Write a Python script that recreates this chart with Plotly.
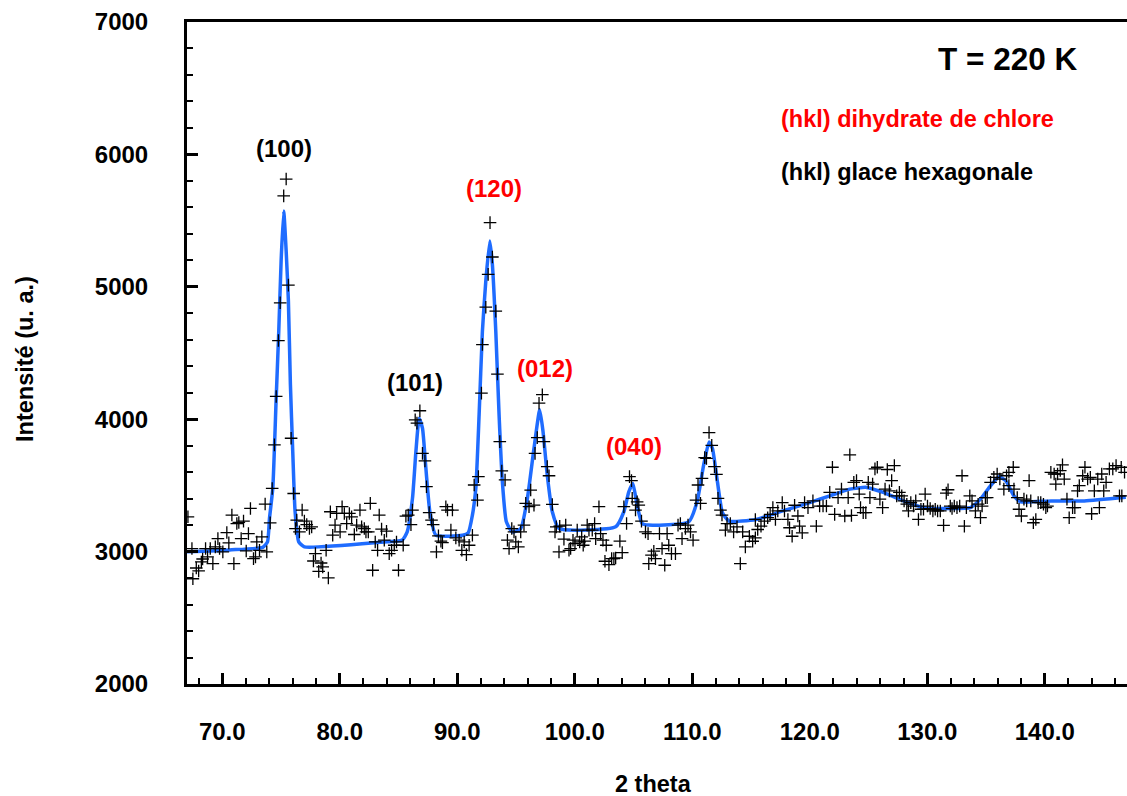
import plotly.graph_objects as go

# Observed data (2 theta, intensity)
theta_obs = [
    67.08, 67.42, 67.50, 67.79, 67.99, 68.22, 68.33, 68.58, 68.75, 68.98, 69.20, 69.41, 69.63, 69.77, 70.05,
    70.39, 70.56, 70.82, 70.99, 71.24, 71.41, 71.61, 71.81, 72.04, 72.23, 72.40, 72.66, 72.83, 72.94, 73.17,
    73.37, 73.65, 73.79, 74.08, 74.25, 74.44, 74.59, 74.78, 74.93, 75.23, 75.44, 75.63, 75.86, 76.08, 76.23,
    76.34, 76.57, 76.80, 76.99, 77.19, 77.42, 77.61, 77.76, 77.93, 78.21, 78.41, 78.55, 78.84, 79.03, 79.20,
    79.40, 79.60, 79.74, 80.03, 80.20, 80.39, 80.59, 80.82, 81.01, 81.24, 81.44, 81.72, 81.86, 82.09, 82.23,
    82.43, 82.60, 82.80, 83.02, 83.22, 83.36, 83.56, 83.79, 83.98, 84.21, 84.41, 84.64, 84.83, 85.00, 85.40,
    85.63, 85.83, 86.06, 86.19, 86.42, 86.57, 86.82, 87.04, 87.25, 87.38, 87.61, 87.81, 87.95, 88.23, 88.40,
    88.61, 88.74, 89.03, 89.17, 89.46, 89.59, 89.88, 90.16, 90.39, 90.59, 90.78, 91.01, 91.29, 91.44, 91.72,
    91.80, 92.06, 92.14, 92.43, 92.63, 92.79, 92.99, 93.28, 93.42, 93.62, 93.79, 94.07, 94.27, 94.41, 94.64,
    94.83, 94.98, 95.20, 95.40, 95.68, 95.83, 96.11, 96.25, 96.53, 96.62, 96.81, 96.96, 97.24, 97.38, 97.66,
    97.81, 98.09, 98.32, 98.43, 98.66, 98.72, 99.08, 99.23, 99.51, 99.65, 99.85, 100.02, 100.21, 100.42, 100.59,
    100.72, 100.84, 101.06, 101.21, 101.49, 101.69, 101.78, 102.06, 102.20, 102.40, 102.57, 102.68, 102.91, 103.14, 103.33,
    103.48, 103.84, 104.04, 104.18, 104.41, 104.66, 104.83, 104.89, 105.17, 105.31, 105.45, 105.68, 106.02, 106.24, 106.30,
    106.53, 106.73, 106.87, 107.21, 107.43, 107.66, 107.86, 108.00, 108.23, 108.57, 108.79, 108.99, 109.13, 109.42, 109.64,
    109.85, 110.07, 110.32, 110.49, 110.70, 110.83, 111.06, 111.21, 111.43, 111.66, 111.89, 112.06, 112.19, 112.40, 112.53,
    112.82, 112.96, 113.24, 113.52, 113.81, 114.09, 114.29, 114.52, 114.86, 115.14, 115.37, 115.37, 115.57, 115.85, 116.14,
    116.42, 116.63, 116.86, 117.08, 117.28, 117.66, 117.85, 118.14, 118.28, 118.50, 118.71, 118.99, 119.13, 119.36, 119.56,
    119.85, 120.27, 120.56, 120.84, 121.13, 121.42, 121.70, 121.93, 122.12, 122.41, 122.70, 122.98, 123.27, 123.41, 123.55,
    123.75, 123.98, 124.21, 124.32, 124.55, 124.77, 124.98, 125.12, 125.35, 125.55, 125.75, 125.97, 126.20, 126.41, 126.60,
    126.78, 126.97, 127.20, 127.40, 127.63, 127.83, 128.03, 128.26, 128.40, 128.60, 128.83, 129.02, 129.25, 129.46, 129.68,
    129.82, 130.02, 130.25, 130.48, 130.68, 130.88, 131.11, 131.39, 131.62, 131.77, 131.96, 132.11, 132.30, 132.53, 132.76,
    132.96, 133.16, 133.33, 133.62, 133.81, 134.10, 134.33, 134.53, 134.67, 134.95, 135.10, 135.39, 135.67, 135.95, 136.18,
    136.52, 136.75, 136.95, 136.95, 137.32, 137.38, 137.66, 137.81, 138.01, 138.23, 138.46, 138.67, 138.81, 139.03, 139.24,
    139.44, 139.66, 139.89, 140.09, 140.23, 140.52, 140.80, 140.94, 141.09, 141.32, 141.51, 141.66, 141.89, 142.08, 142.37,
    142.56, 142.79, 142.94, 143.23, 143.42, 143.65, 143.88, 143.99, 144.22, 144.51, 144.65, 144.85, 145.02, 145.22, 145.50,
    145.79, 146.07, 146.36, 146.56, 146.51, 146.79,
]
intensity_obs = [
    3263, 3023, 2795, 2876, 2854, 2922, 2944, 3023, 2960, 3023, 2909, 3036, 3098, 3023, 2998,
    3144, 3066, 3276, 2909, 3212, 3220, 3098, 3230, 3005, 3136, 3326, 2947, 2960, 3073, 3010,
    3111, 3359, 2998, 3217, 3477, 3806, 4172, 4594, 4879, 5687, 5814, 5013, 3856, 3439, 3174,
    3238, 3149, 3314, 3230, 3204, 3174, 3187, 2929, 2985, 2851, 2914, 2884, 3010, 2801, 3301,
    3124, 3200, 3288, 3149, 3339, 3288, 3212, 3288, 3263, 3129, 3200, 3314, 3187, 3174, 3149,
    3149, 3364, 2859, 3073, 3010, 3276, 3170, 3086, 3154, 2985, 3010, 3048, 3073, 2859, 3048,
    3268, 3276, 3204, 3314, 3995, 3970, 4064, 3742, 3685, 3490, 3295, 3238, 3204, 2998, 3119,
    3079, 3068, 3339, 3314, 3162, 3314, 3104, 3086, 3010, 3073, 2977, 3048, 3124, 3503, 3389,
    3566, 4197, 4564, 4846, 5094, 5485, 5225, 4816, 4341, 3831, 3609, 3541, 3086, 3023, 3174,
    3149, 3073, 3036, 3149, 3200, 3364, 3339, 3465, 3351, 3742, 3861, 4121, 4185, 3831, 3642,
    3573, 3356, 3149, 3187, 2998, 3192, 3094, 3200, 3010, 3023, 3086, 3061, 3162, 3073, 3111,
    3048, 3079, 3200, 3162, 3162, 3212, 3098, 3339, 3136, 3086, 2927, 3048, 2901, 2947, 2947,
    2952, 3079, 2992, 3339, 3212, 3566, 3536, 3402, 3314, 3376, 3351, 3230, 3149, 3136, 2909,
    2973, 3003, 2947, 3136, 3023, 2897, 3136, 3048, 2985, 2985, 3200, 3212, 3098, 3174, 3200,
    3149, 3086, 3389, 3503, 3364, 3553, 3710, 3704, 3899, 3802, 3642, 3583, 3402, 3314, 3276,
    3162, 3212, 3212, 3149, 3187, 2909, 3149, 3036, 3116, 3078, 3104, 3243, 3167, 3192, 3230,
    3256, 3281, 3332, 3243, 3307, 3370, 3307, 3243, 3180, 3116, 3350, 3269, 3192, 3142, 3370,
    3332, 3383, 3192, 3344, 3344, 3344, 3447, 3637, 3281, 3408, 3472, 3269, 3408, 3731, 3273,
    3523, 3536, 3434, 3332, 3294, 3294, 3523, 3408, 3510, 3625, 3637, 3396, 3332, 3472, 3620,
    3459, 3536, 3650, 3421, 3447, 3421, 3383, 3358, 3307, 3370, 3344, 3383, 3243, 3320, 3320,
    3434, 3344, 3325, 3307, 3320, 3307, 3307, 3198, 3442, 3467, 3344, 3325, 3344, 3332, 3344,
    3573, 3192, 3332, 3421, 3383, 3307, 3358, 3256, 3344, 3408, 3408, 3523, 3561, 3586, 3548,
    3472, 3573, 3599, 3498, 3637, 3472, 3408, 3320, 3269, 3396, 3383, 3536, 3383, 3218, 3243,
    3370, 3370, 3358, 3332, 3344, 3599, 3586, 3510, 3586, 3612, 3655, 3548, 3396, 3256, 3332,
    3332, 3459, 3498, 3573, 3637, 3548, 3561, 3286, 3459, 3548, 3332, 3586, 3459, 3523, 3625,
    3625, 3650, 3421, 3421, 3637, 3599,
]

# Fitted profile
theta_fit = [
    67.0, 70.62, 73.45, 73.85, 74.02, 74.30, 74.59, 74.81, 75.01, 75.23, 75.44, 75.63, 75.80, 76.00, 76.20,
    76.51, 76.99, 83.37, 85.32, 85.74, 86.19, 86.48, 86.76, 87.04, 87.33, 87.67, 88.18, 90.44, 90.93, 91.29,
    91.58, 91.86, 92.14, 92.43, 92.77, 92.99, 93.28, 93.56, 93.84, 94.18, 94.69, 95.40, 95.97, 96.53, 97.02,
    97.30, 97.66, 98.09, 98.66, 103.48, 104.18, 104.60, 104.94, 105.31, 105.73, 106.30, 109.70, 110.41, 110.97, 111.43,
    111.72, 112.15, 112.57, 113.14, 115.43, 117.70, 119.99, 121.70, 123.41, 124.83, 126.26, 127.97, 129.69, 131.96, 133.67,
    134.53, 135.39, 136.10, 136.67, 137.38, 137.95, 140.52, 143.37, 146.9,
]
intensity_fit = [
    2998, 3013, 3032, 3073, 3250, 3477, 4159, 4664, 5195, 5573, 5270, 4892, 4263, 3755, 3301,
    3073, 3036, 3070, 3088, 3149, 3402, 3755, 4007, 3932, 3629, 3301, 3124, 3124, 3142, 3276,
    3477, 4033, 4664, 5043, 5346, 5170, 4664, 4033, 3528, 3225, 3149, 3174, 3402, 3780, 4071,
    3907, 3579, 3301, 3174, 3187, 3301, 3452, 3515, 3351, 3212, 3200, 3225, 3376, 3654, 3828,
    3778, 3523, 3294, 3230, 3243, 3307, 3370, 3421, 3472, 3485, 3447, 3383, 3332, 3325, 3332,
    3396, 3498, 3566, 3536, 3421, 3376, 3383, 3383, 3410,
]

# Peak labels
peak_labels = ["(100)", "(101)", "(120)", "(012)", "(040)"]
peak_theta = [75.27, 86.40, 93.14, 97.44, 105.03]
peak_int = [6043, 4280, 5740, 4386, 3793]
peak_colors = ["black", "black", "red", "red", "red"]

FONT = "Liberation Sans, Arial, sans-serif"

fig = go.Figure()
fig.add_trace(go.Scatter(
    x=theta_fit, y=intensity_fit, mode="lines",
    line=dict(color="#1f6cff", width=3.5, shape="spline", smoothing=0.5),
    hoverinfo="skip", showlegend=False,
))
fig.add_trace(go.Scatter(
    x=theta_obs, y=intensity_obs, mode="markers",
    marker=dict(symbol="cross-thin", size=9, line=dict(color="black", width=1.3)),
    showlegend=False,
))

for lab, tx, ty, col in zip(peak_labels, peak_theta, peak_int, peak_colors):
    fig.add_annotation(x=tx, y=ty, text=lab, showarrow=False,
                       font=dict(family=FONT, size=24, color=col, weight="bold"),
                       xanchor="center", yanchor="middle")

fig.add_annotation(x=136.8, y=6717, text="T = 220 K", showarrow=False,
                   font=dict(family=FONT, size=31.5, color="black", weight="bold"),
                   xanchor="center", yanchor="middle")
fig.add_annotation(x=117.41, y=6270, text="(hkl) dihydrate de chlore", showarrow=False,
                   font=dict(family=FONT, size=23.5, color="red", weight="bold"),
                   xanchor="left", yanchor="middle")
fig.add_annotation(x=117.41, y=5864, text="(hkl) glace hexagonale", showarrow=False,
                   font=dict(family=FONT, size=23.5, color="black", weight="bold"),
                   xanchor="left", yanchor="middle")

# axis titles
fig.add_annotation(xref="paper", yref="paper", x=(653 - 187) / 940, y=-(784 - 684) / 662,
                   text="2 theta", showarrow=False,
                   font=dict(family=FONT, size=23.5, color="black", weight="bold"),
                   xanchor="center", yanchor="middle")
fig.add_annotation(xref="paper", yref="paper", x=-(187 - 25) / 940, y=(684 - 359) / 662,
                   text="Intensité (u. a.)", showarrow=False, textangle=-90,
                   font=dict(family=FONT, size=23.5, color="black", weight="bold"),
                   xanchor="center", yanchor="middle")

fig.update_layout(
    width=1127, height=796,
    margin=dict(l=187, r=0, t=22, b=112),
    paper_bgcolor="white", plot_bgcolor="white",
    font=dict(family=FONT, color="black"),
)
fig.update_xaxes(
    range=[67, 147], showgrid=False, zeroline=False,
    showline=True, linecolor="black", linewidth=3, mirror=True,
    tick0=70, dtick=10, tickformat=".1f",
    ticks="inside", ticklen=11, tickwidth=2.5, tickcolor="black",
    minor=dict(ticks="inside", dtick=2, tick0=70, ticklen=6, tickwidth=2, tickcolor="black"),
    tickfont=dict(family=FONT, size=24, color="black", weight="bold"),
    ticklabelstandoff=24,
)
fig.update_yaxes(
    range=[2000, 7000], showgrid=False, zeroline=False,
    showline=True, linecolor="black", linewidth=3,
    tick0=2000, dtick=1000,
    ticks="inside", ticklen=11, tickwidth=2.5, tickcolor="black",
    minor=dict(ticks="inside", dtick=200, ticklen=6, tickwidth=2, tickcolor="black"),
    tickfont=dict(family=FONT, size=24, color="black", weight="bold"),
    ticklabelstandoff=31,
)

fig.write_html(
    "out.html",
    config={"displayModeBar": False},
    post_script="document.body.style.margin='0px';document.body.style.overflow='hidden';",
)
